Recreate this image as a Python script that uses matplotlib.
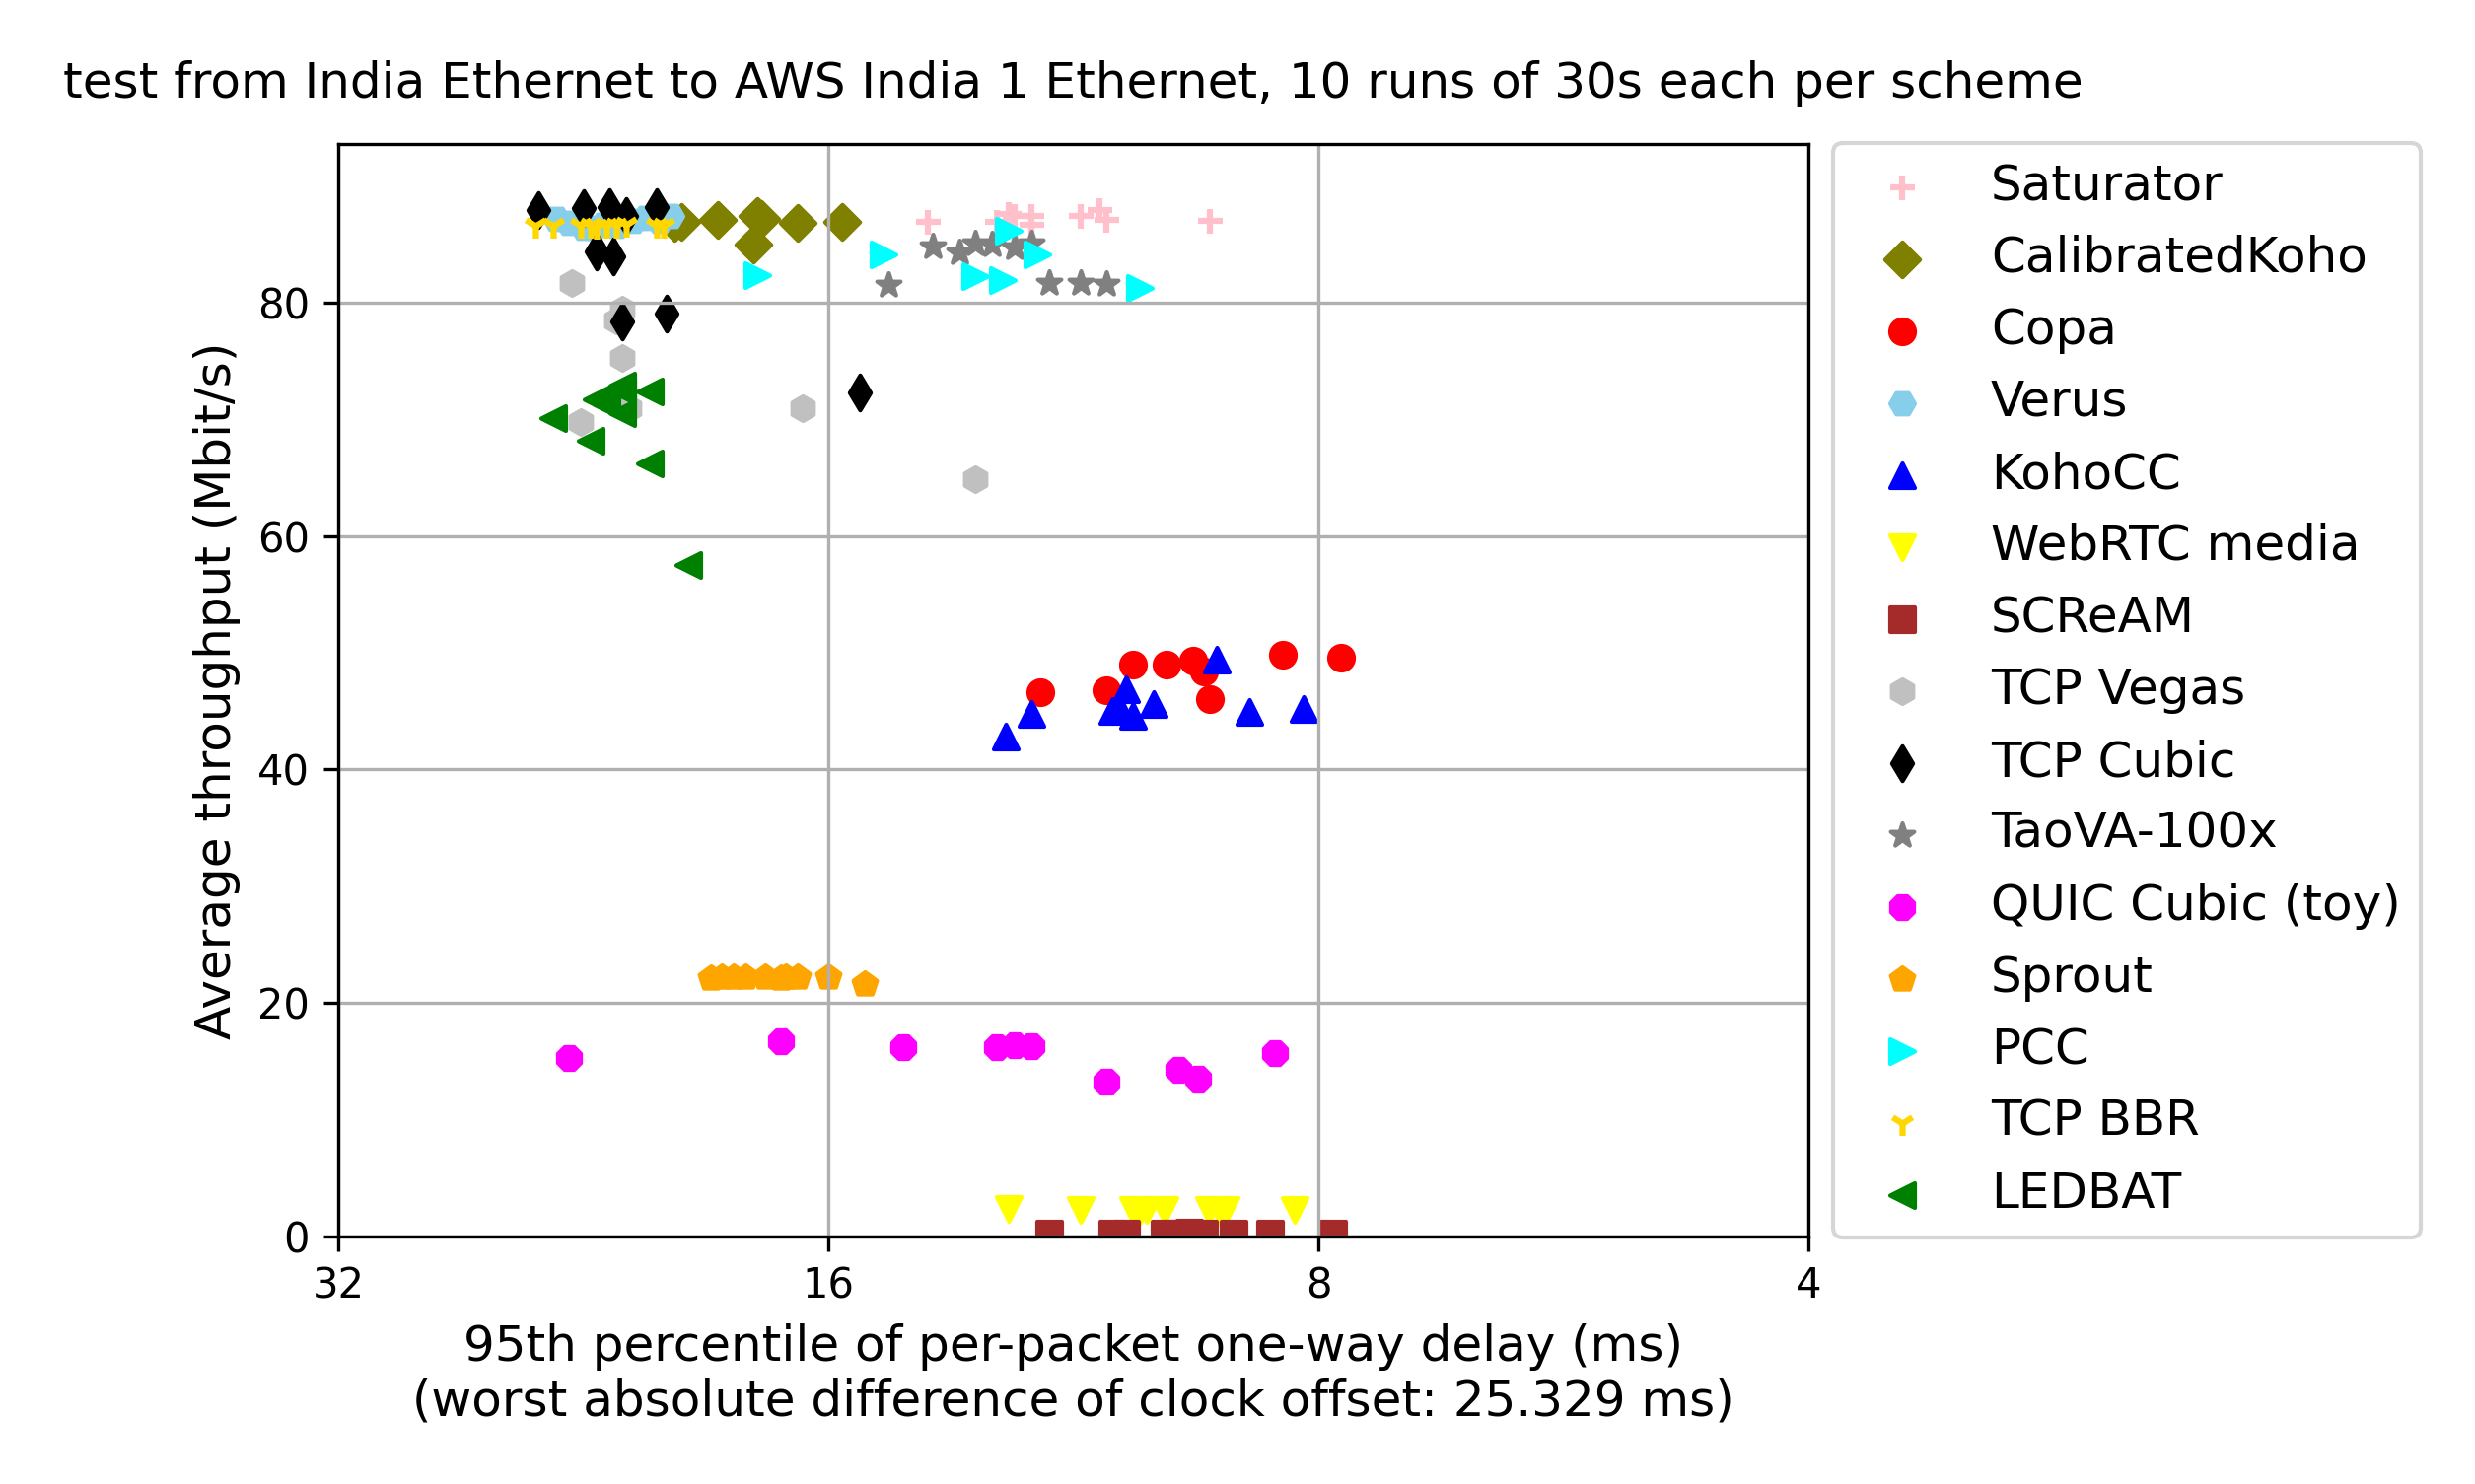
import matplotlib
matplotlib.use("Agg")
import matplotlib.pyplot as plt

# per-scheme results: 95th pct one-way delay (ms), avg throughput (Mbit/s)
saturator_delay = [13.9, 12.6, 12.4, 12.3, 12.0, 12.0, 11.2, 10.9, 10.8, 9.32]
saturator_tput = [86.9, 86.9, 87.6, 87.4, 87.4, 86.7, 87.4, 87.9, 87.1, 87.0]

calkoho_delay = [19.7, 18.7, 17.7, 17.8, 16.7, 15.7, 19.9, 17.6]
calkoho_tput = [86.9, 87.1, 87.4, 85.0, 86.8, 86.9, 86.8, 87.2]

copa_delay = [11.85, 10.8, 10.4, 9.92, 9.55, 9.40, 9.32, 8.41, 7.75]
copa_tput = [46.6, 46.8, 49.0, 49.0, 49.3, 48.4, 46.0, 49.8, 49.6]

verus_delay = [23.5, 23.1, 22.6, 22.3, 22.0, 21.6, 21.1, 20.7, 20.3, 20.0]
verus_tput = [87.2, 86.8, 86.4, 86.4, 86.7, 86.6, 87.0, 87.3, 87.0, 87.4]

kohocc_delay = [12.45, 12.0, 10.7, 10.5, 10.4, 10.1, 9.23, 8.82, 8.17, 10.6]
kohocc_tput = [42.8, 44.8, 45.0, 46.9, 44.6, 45.6, 49.4, 44.9, 45.2, 45.3]

webrtc_delay = [12.4, 11.2, 10.4, 10.2, 9.95, 9.34, 9.12, 8.27, 10.3, 9.2]
webrtc_tput = [2.4, 2.3, 2.3, 2.3, 2.3, 2.3, 2.3, 2.3, 2.2, 2.2]

scream_delay = [11.7, 10.7, 10.5, 9.95, 9.61, 9.40, 9.02, 8.56, 7.83, 9.8]
scream_tput = [0.28, 0.28, 0.25, 0.28, 0.3, 0.28, 0.28, 0.28, 0.28, 0.25]

vegas_delay = [23.0, 21.4, 21.6, 21.4, 22.7, 16.6, 21.7, 21.2, 13.0, 21.5]
vegas_tput = [81.7, 79.4, 78.5, 75.3, 69.8, 71.0, 71.6, 71.0, 64.9, 72.0]

cubic_delay = [24.1, 22.6, 21.8, 21.3, 20.4, 22.2, 21.7, 21.4, 20.1, 15.3]
cubic_tput = [87.9, 88.1, 88.2, 87.4, 88.2, 84.4, 84.0, 78.4, 79.1, 72.3]

taova_delay = [14.7, 13.8, 13.3, 13.0, 12.7, 12.3, 12.0, 11.7, 11.2, 10.8]
taova_tput = [81.5, 84.8, 84.3, 85.1, 85.0, 84.7, 85.1, 81.7, 81.7, 81.6]

quic_delay = [23.1, 17.1, 14.4, 12.6, 12.3, 12.0, 10.8, 9.75, 9.49, 8.51]
quic_tput = [15.3, 16.7, 16.2, 16.2, 16.35, 16.3, 13.3, 14.3, 13.5, 15.7]

sprout_delay = [18.9, 18.6, 18.3, 18.0, 17.5, 17.1, 17.0, 16.7, 16.0, 15.2]
sprout_tput = [22.1, 22.2, 22.2, 22.2, 22.2, 22.1, 22.2, 22.2, 22.2, 21.6]

pcc_delay = [17.7, 14.8, 12.4, 11.9, 13.0, 12.5, 10.3]
pcc_tput = [82.4, 84.1, 86.2, 84.1, 82.3, 81.9, 81.3]

bbr_delay = [24.2, 23.6, 22.7, 22.4, 22.2, 21.9, 21.6, 21.3, 20.4, 20.2]
bbr_tput = [86.6, 86.6, 86.6, 86.6, 86.5, 86.6, 86.6, 86.7, 86.6, 86.6]

ledbat_delay = [23.6, 22.2, 21.4, 21.4, 21.4, 20.6, 22.4, 20.6, 19.5, 21.9]
ledbat_tput = [70.1, 71.7, 72.5, 70.5, 72.9, 72.4, 68.2, 66.2, 57.5, 71.3]

schemes = [
    ("Saturator", saturator_delay, saturator_tput, "pink", "+"),
    ("CalibratedKoho", calkoho_delay, calkoho_tput, "olive", "D"),
    ("Copa", copa_delay, copa_tput, "red", "o"),
    ("Verus", verus_delay, verus_tput, "skyblue", "H"),
    ("KohoCC", kohocc_delay, kohocc_tput, "blue", "^"),
    ("WebRTC media", webrtc_delay, webrtc_tput, "yellow", "v"),
    ("SCReAM", scream_delay, scream_tput, "brown", "s"),
    ("TCP Vegas", vegas_delay, vegas_tput, "silver", "h"),
    ("TCP Cubic", cubic_delay, cubic_tput, "black", "d"),
    ("TaoVA-100x", taova_delay, taova_tput, "grey", "*"),
    ("QUIC Cubic (toy)", quic_delay, quic_tput, "magenta", "8"),
    ("Sprout", sprout_delay, sprout_tput, "orange", "p"),
    ("PCC", pcc_delay, pcc_tput, "cyan", ">"),
    ("TCP BBR", bbr_delay, bbr_tput, "gold", "1"),
    ("LEDBAT", ledbat_delay, ledbat_tput, "green", "<"),
]

x_ticks = [32, 16, 8, 4]
y_ticks = [0, 20, 40, 60, 80]

title = "test from India Ethernet to AWS India 1 Ethernet, 10 runs of 30s each per scheme"
xlabel = ("95th percentile of per-packet one-way delay (ms)\n"
          "(worst absolute difference of clock offset: 25.329 ms)")
ylabel = "Average throughput (Mbit/s)"


def main():
    fig = plt.figure(figsize=(2511 / 300, 1505 / 300), dpi=300)
    ax = fig.add_axes([343 / 2511, 1 - 1254 / 1505, (1834 - 343) / 2511, (1254 - 146) / 1505])

    for name, delay, tput, color, marker in schemes:
        ax.scatter(delay, tput, color=color, marker=marker, label=name)

    ax.set_xscale("log", base=2)
    ax.set_xlim(32, 4)
    ax.set_ylim(0, 93.6)
    ax.set_xticks(x_ticks)
    ax.set_xticklabels([str(t) for t in x_ticks])
    ax.minorticks_off()
    ax.set_yticks(y_ticks)
    ax.tick_params(labelsize=10)

    ax.set_xlabel(xlabel, fontsize=12)
    ax.set_ylabel(ylabel, fontsize=12)
    ax.set_title(title, y=1.02, fontsize=12)
    ax.grid()

    ax.legend(scatterpoints=1, bbox_to_anchor=(1, 0.5), loc="center left", fontsize=12)

    fig.savefig("out.png", dpi=300)


if __name__ == "__main__":
    main()
